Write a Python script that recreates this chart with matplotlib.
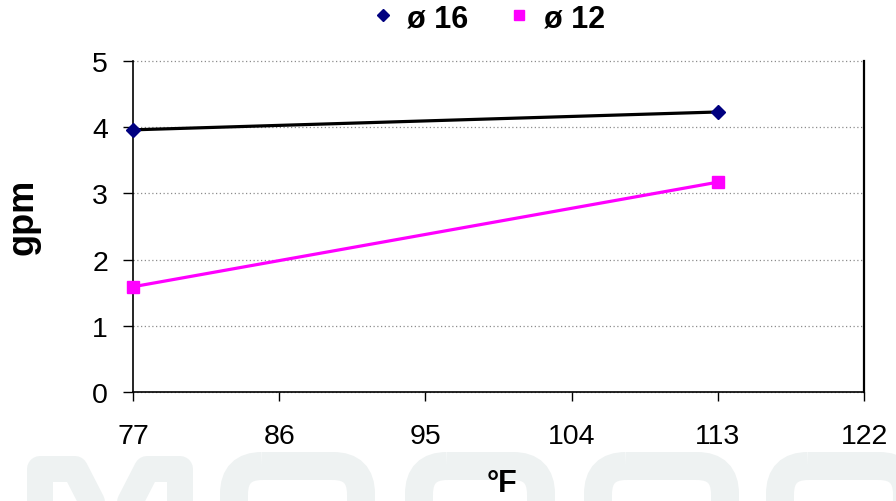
import matplotlib
matplotlib.use("Agg")
import matplotlib.pyplot as plt
from matplotlib.patches import FancyBboxPatch

plt.rcParams["font.family"] = ["Liberation Sans", "DejaVu Sans"]

# ------------------------------------------------------------------
# Data
# ------------------------------------------------------------------
temps_f = [77, 113]
flow_d16 = [3.96, 4.23]
flow_d12 = [1.59, 3.17]

x_ticks = [77, 86, 95, 104, 113, 122]
y_ticks = [0, 1, 2, 3, 4, 5]

D16_MARKER = "#000080"
D12_COLOR = "#FF00FF"
GRID_COLOR = "#8c8c8c"
WATERMARK = "#eef2f2"

fig = plt.figure(figsize=(8.96, 5.02), dpi=100)

# ------------------------------------------------------------------
# faint logo watermark behind the chart (pixel units, 1 unit = 1 px)
# ------------------------------------------------------------------
bg = fig.add_axes([0, 0, 1, 1], zorder=-1)
bg.set_xlim(0, 896)
bg.set_ylim(502, 0)
bg.axis("off")
px = 0.72  # points per pixel at 100 dpi
bg.plot([40, 40, 75, 111, 147, 180, 180], [640, 470, 470, 540, 470, 470, 640],
        color=WATERMARK, linewidth=26 * px, solid_joinstyle="round",
        solid_capstyle="round")
for left, right in [(220, 375), (405, 555), (584, 739), (766, 921)]:
    bg.add_patch(FancyBboxPatch((left + 14, 467), right - left - 28, 200,
                                boxstyle="round,pad=0,rounding_size=28",
                                fill=False, edgecolor=WATERMARK,
                                linewidth=28 * px))

# ------------------------------------------------------------------
# main chart
# ------------------------------------------------------------------
ax = fig.add_axes([0.1484, 0.2171, 0.8159, 0.6594])
ax.patch.set_visible(False)

ax.plot(temps_f, flow_d16, color="black", linewidth=2.3, zorder=3)
ax.plot(temps_f, flow_d16, linestyle="none", marker="D", markersize=7,
        color=D16_MARKER, zorder=4, clip_on=False)
ax.plot(temps_f, flow_d12, color=D12_COLOR, linewidth=2.3, marker="s",
        markersize=8, zorder=3, clip_on=False)

ax.set_xlim(77, 122)
ax.set_ylim(0, 5)
ax.set_xticks(x_ticks)
ax.set_yticks(y_ticks)
ax.tick_params(axis="both", labelsize=20.5, width=1.0, colors="black")
ax.tick_params(axis="x", direction="out", length=6.5, pad=16)
ax.tick_params(axis="y", direction="out", length=7, pad=11)

ax.yaxis.grid(True, color=GRID_COLOR, linestyle=(0, (1, 2)), linewidth=0.9)
ax.set_axisbelow(True)
for gl in ax.get_ygridlines():
    gl.set_clip_on(False)

ax.spines["top"].set_visible(False)
for side in ("left", "bottom", "right"):
    ax.spines[side].set_color("black")
    ax.spines[side].set_linewidth(1.2)
ax.spines["right"].set_linewidth(1.6)

fig.text(0.026, 0.567, "gpm", rotation=90, fontsize=26, fontweight="bold",
         ha="center", va="center")
fig.text(0.560, 0.035, "°F", fontsize=22, fontweight="bold",
         ha="center", va="center")

h16, = ax.plot([], [], linestyle="none", marker="D", markersize=6.5,
               color=D16_MARKER)
h12, = ax.plot([], [], linestyle="none", marker="s", markersize=7.5,
               color=D12_COLOR)
fig.legend([h16, h12], ["ø 16", "ø 12"], loc="center", ncol=2,
           bbox_to_anchor=(0.546, 0.962), frameon=False,
           prop={"size": 22, "weight": "bold"},
           handlelength=0.6, handletextpad=0.5, columnspacing=1.35)

fig.savefig("out.png", dpi=100)
